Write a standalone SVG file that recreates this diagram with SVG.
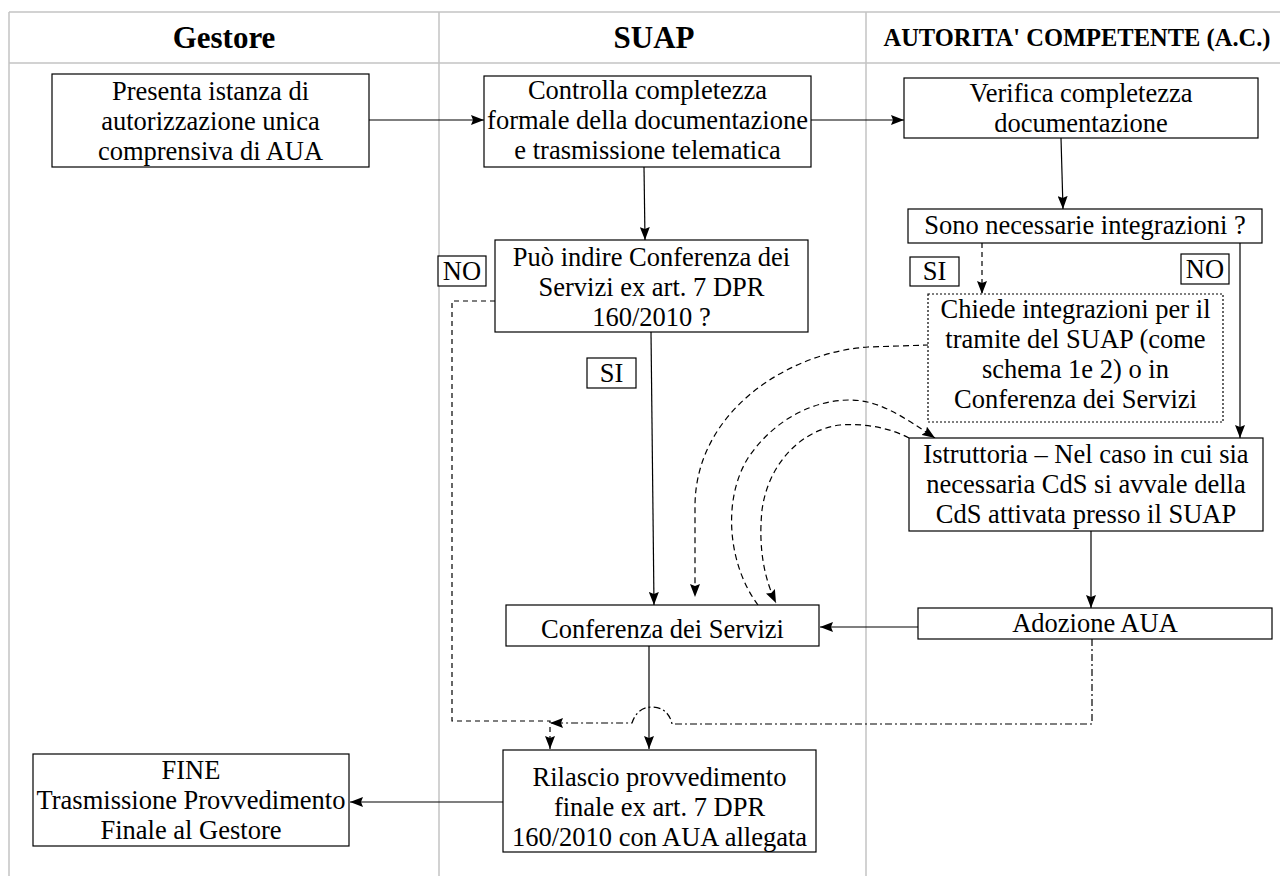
<svg xmlns="http://www.w3.org/2000/svg" width="1280" height="878" viewBox="0 0 1280 878">
<style>
.grid{stroke:#c4c4c4;stroke-width:1.5;fill:none}
.box{fill:#fff;stroke:#000;stroke-width:1.2}
.dot{fill:#fff;stroke:#000;stroke-width:1.2;stroke-dasharray:2 2}
.t{font-family:"Liberation Serif","Times New Roman",serif;font-size:26.5px;fill:#000;text-anchor:middle}
.h{font-family:"Liberation Serif","Times New Roman",serif;font-weight:bold;fill:#000;text-anchor:middle}
.ln{fill:none;stroke:#000;stroke-width:1.2}
.ds{fill:none;stroke:#000;stroke-width:1.2;stroke-dasharray:5 4}
.cv{fill:none;stroke:#000;stroke-width:1.2;stroke-dasharray:6 4}
.dd{fill:none;stroke:#000;stroke-width:1.2;stroke-dasharray:7 3 2 3}
</style>
<defs>
<marker id="ah" markerUnits="userSpaceOnUse" markerWidth="14" markerHeight="10" refX="13" refY="5" orient="auto">
<path d="M0,0 L13,5 L0,10 L2,5 z" fill="#000"/>
</marker>
</defs>
<rect width="1280" height="878" fill="#fff"/>
<g id="table">
<path class="grid" d="M9,12 H1280 M9,63 H1280 M9,12 V876 M439,12 V876 M866,12 V876"/>
<text class="h" x="224" y="48" font-size="31">Gestore</text>
<text class="h" x="654" y="48" font-size="31">SUAP</text>
<text class="h" x="1077" y="46" font-size="24.5">AUTORITA' COMPETENTE (A.C.)</text>
</g>
<g id="connectors">
<path class="ln" d="M369,120 H484" marker-end="url(#ah)"/>
<path class="ln" d="M811,120 H904" marker-end="url(#ah)"/>
<path class="ln" d="M644,167 L645,240" marker-end="url(#ah)"/>
<path class="ln" d="M1061,138 L1063,209" marker-end="url(#ah)"/>
<path class="ds" d="M982,243 V294" marker-end="url(#ah)"/>
<path class="ln" d="M1240,243 V438" marker-end="url(#ah)"/>
<path class="ln" d="M651,332 L654,605" marker-end="url(#ah)"/>
<path class="ln" d="M1091,531 V608" marker-end="url(#ah)"/>
<path class="ln" d="M918,627 H820" marker-end="url(#ah)"/>
<path class="ln" d="M649,646 V749" marker-end="url(#ah)"/>
<path class="ln" d="M503,802 H350" marker-end="url(#ah)"/>
<path class="ds" d="M495,301 H452 V721 H550 V749" marker-end="url(#ah)"/>
<path class="dd" d="M1092,639 V724 H672 C670,714 663,707 652,707 C641,707 635,714 632,723 H550" marker-end="url(#ah)"/>
<path class="cv" d="M929,345 L868,347 C790,352 696,410 695,505 L695,597" marker-end="url(#ah)"/>
<path class="cv" d="M758,605 C728,565 722,500 748,458 C775,418 815,400 850,400 C880,400 905,418 935,438" marker-end="url(#ah)"/>
<path class="cv" d="M909,438 C890,428 865,423 840,425 C800,430 768,465 762,510 C758,550 765,580 776,603" marker-end="url(#ah)"/>
</g>
<g id="n-presenta">
<rect class="box" x="52" y="74" width="317" height="93"/>
<text class="t" x="210.5" y="100">Presenta istanza di</text>
<text class="t" x="210.5" y="130">autorizzazione unica</text>
<text class="t" x="210.5" y="160">comprensiva di AUA</text>
</g>
<g id="n-controlla">
<rect class="box" x="484" y="76" width="327" height="91"/>
<text class="t" x="647.5" y="99">Controlla completezza</text>
<text class="t" x="647.5" y="129">formale della documentazione</text>
<text class="t" x="647.5" y="159">e trasmissione telematica</text>
</g>
<g id="n-verifica">
<rect class="box" x="904" y="78" width="354" height="60"/>
<text class="t" x="1081" y="102">Verifica completezza</text>
<text class="t" x="1081" y="132">documentazione</text>
</g>
<g id="n-sono">
<rect class="box" x="908" y="209" width="354" height="34"/>
<text class="t" x="1085" y="234">Sono necessarie integrazioni ?</text>
</g>
<g id="n-puo">
<rect class="box" x="495" y="240" width="313" height="92"/>
<text class="t" x="651.5" y="266">Può indire Conferenza dei</text>
<text class="t" x="651.5" y="296">Servizi ex art. 7 DPR</text>
<text class="t" x="651.5" y="326">160/2010 ?</text>
</g>
<g id="l-no1">
<rect class="box" x="438" y="256" width="48" height="30"/>
<text class="t" x="462" y="280">NO</text>
</g>
<g id="l-si1">
<rect class="box" x="587" y="358" width="49" height="30"/>
<text class="t" x="611.5" y="382">SI</text>
</g>
<g id="l-si2">
<rect class="box" x="910" y="257" width="49" height="29"/>
<text class="t" x="934.5" y="280">SI</text>
</g>
<g id="l-no2">
<rect class="box" x="1181" y="254" width="48" height="30"/>
<text class="t" x="1205" y="278">NO</text>
</g>
<g id="n-chiede">
<rect class="dot" x="928" y="294" width="295" height="128"/>
<text class="t" x="1075.5" y="318">Chiede integrazioni per il</text>
<text class="t" x="1075.5" y="348">tramite del SUAP (come</text>
<text class="t" x="1075.5" y="378">schema 1e 2) o in</text>
<text class="t" x="1075.5" y="408">Conferenza dei Servizi</text>
</g>
<g id="n-istruttoria">
<rect class="box" x="909" y="438" width="354" height="93"/>
<text class="t" x="1086" y="463">Istruttoria – Nel caso in cui sia</text>
<text class="t" x="1086" y="493">necessaria CdS si avvale della</text>
<text class="t" x="1086" y="523">CdS attivata presso il SUAP</text>
</g>
<g id="n-conferenza">
<rect class="box" x="506" y="605" width="313" height="41"/>
<text class="t" x="662.5" y="638">Conferenza dei Servizi</text>
</g>
<g id="n-adozione">
<rect class="box" x="918" y="608" width="354" height="31"/>
<text class="t" x="1095" y="632">Adozione AUA</text>
</g>
<g id="n-rilascio">
<rect class="box" x="503" y="750" width="313" height="102"/>
<text class="t" x="659.5" y="786">Rilascio provvedimento</text>
<text class="t" x="659.5" y="816">finale ex art. 7 DPR</text>
<text class="t" x="659.5" y="846">160/2010 con AUA allegata</text>
</g>
<g id="n-fine">
<rect class="box" x="33" y="754" width="316" height="92"/>
<text class="t" x="191" y="779">FINE</text>
<text class="t" x="191" y="809">Trasmissione Provvedimento</text>
<text class="t" x="191" y="839">Finale al Gestore</text>
</g>
</svg>
